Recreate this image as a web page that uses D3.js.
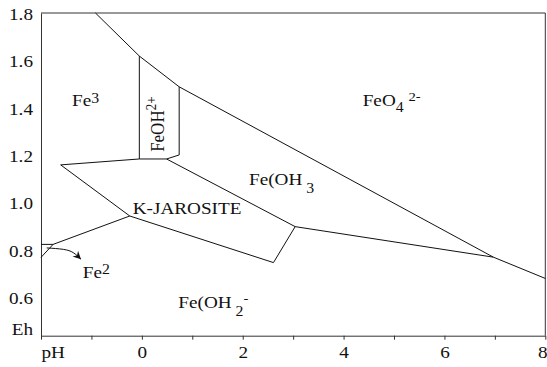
<!DOCTYPE html>
<html><head><meta charset="utf-8">
<script src="https://cdn.jsdelivr.net/npm/d3@7"></script>
<style>body{margin:0;background:#fff}</style>
</head><body>
<svg id="chart" width="547" height="367"></svg>
<script>
// Eh–pH stability diagram for iron (K-jarosite system)
const pHDomain = [-2, 8];
const EhDomain = [0.438, 1.802];
const xTicks = [-2, -1, 0, 1, 2, 3, 4, 5, 6, 7, 8];
const xTickLabels = ["pH", "", "0", "", "2", "", "4", "", "6", "", "8"];
const yTicks = [0.6, 0.8, 1.0, 1.2, 1.4, 1.6, 1.8];
const yTickLabels = ["0.6", "0.8", "1.0", "1.2", "1.4", "1.6", "1.8"];
const yAxisTitle = "Eh";

// Stability-field boundaries as [pH, Eh] vertices
const fe3Upper = [[-0.92, 1.802], [-0.05, 1.62], [0.74, 1.49], [6.97, 0.77], [8, 0.68]];
const feohBox = [[-0.05, 1.62], [-0.05, 1.185], [0.49, 1.185], [0.74, 1.202], [0.74, 1.49]];
const fe3Lower = [[-1.61, 1.16], [-0.05, 1.185]];
const jarosite = [[-1.61, 1.16], [-0.24, 0.944], [2.61, 0.747], [3.04, 0.899], [0.49, 1.185]];
const hydroxide = [[3.04, 0.899], [6.97, 0.77]];
const fe2Upper = [[-0.24, 0.944], [-1.76, 0.824], [-2, 0.769]];
const fe2Step = [[-2, 0.824], [-1.76, 0.824]];
const fe2Arrow = [[-1.887, 0.809], [-1.558, 0.803], [-1.36, 0.789], [-1.207, 0.761]];

// Field labels: anchor [pH, Eh], pieces with baseline shift and size
const fieldLabels = [
  { at: [-1.385, 1.407], parts: [{ t: "Fe" }, { t: "3", s: -3.5, z: 14 }] },
  { at: [0.439, 1.215], rot: -90, parts: [{ t: "FeOH" }, { t: "2+", s: -7, z: 13 }] },
  { at: [4.379, 1.409], parts: [{ t: "FeO" }, { t: "4", s: 6, z: 14 }, { t: " " }, { t: "2-", s: -4.5, z: 13 }] },
  { at: [2.125, 1.075], parts: [{ t: "Fe(OH" }, { t: " 3", s: 8, z: 14 }] },
  { at: [-0.182, 0.951], parts: [{ t: "K-JAROSITE" }] },
  { at: [-1.173, 0.683], parts: [{ t: "Fe" }, { t: "2", s: -3.6, z: 14 }] },
  { at: [0.723, 0.554], parts: [{ t: "Fe(OH" }, { t: " 2", s: 7.7, z: 14 }, { t: "-", s: -5, z: 13 }] }
];

const plotBox = { left: 41, right: 545.3, top: 13, bottom: 335.7 };
const stretch = 1.13;
const font = "'Liberation Serif', 'Times New Roman', serif";

const svg = d3.select("#chart");
const x = d3.scaleLinear().domain(pHDomain).range([plotBox.left, plotBox.right]);
const y = d3.scaleLinear().domain(EhDomain).range([plotBox.bottom, plotBox.top]);

// frame: top and right edges
svg.append("path")
  .attr("d", `M${plotBox.left},${plotBox.top}H${plotBox.right}V${plotBox.bottom}`)
  .attr("fill", "none").attr("stroke", "#333").attr("stroke-width", 1);

// x axis
const xAxis = svg.append("g")
  .attr("transform", `translate(0,${plotBox.bottom})`)
  .call(d3.axisBottom(x).tickValues(xTicks).tickSize(4).tickSizeOuter(0)
    .tickFormat((d, i) => xTickLabels[i]));
xAxis.select(".domain").attr("stroke", "#333");
xAxis.selectAll(".tick line").attr("stroke", "#333");
const lastTick = xTicks.length - 1;
xAxis.selectAll(".tick text")
  .attr("y", 22.8).attr("dy", 0)
  .attr("x", (d, i) => i === lastTick ? (547 - x(d)) / stretch : 0)
  .attr("transform", `scale(${stretch},1)`)
  .attr("font-family", font).attr("font-size", 17).attr("fill", "#111")
  .attr("text-anchor", (d, i) => i === 0 ? "start" : (i === lastTick ? "end" : "middle"));

// y axis
const yAxis = svg.append("g")
  .attr("transform", `translate(${plotBox.left},0)`)
  .call(d3.axisLeft(y).tickValues(yTicks).tickSize(0).tickSizeOuter(0)
    .tickFormat((d, i) => yTickLabels[i]));
yAxis.select(".domain").attr("stroke", "#333");
yAxis.selectAll(".tick text")
  .attr("x", -8 / stretch).attr("dy", "0.36em")
  .attr("transform", `scale(${stretch},1)`)
  .attr("font-family", font).attr("font-size", 17).attr("fill", "#111");

svg.append("text")
  .attr("transform", `translate(${plotBox.left - 8},${plotBox.bottom - 0.5}) scale(${stretch},1)`)
  .attr("text-anchor", "end")
  .attr("font-family", font).attr("font-size", 17).attr("fill", "#111")
  .text(yAxisTitle);

// boundaries
const line = d3.line().x(d => x(d[0])).y(d => y(d[1]));
const boundaries = [fe3Upper, feohBox, fe3Lower, jarosite, hydroxide, fe2Upper, fe2Step];
svg.append("g").selectAll("path").data(boundaries).join("path")
  .attr("d", line)
  .attr("fill", "none").attr("stroke", "#111").attr("stroke-width", 1)
  .attr("stroke-linejoin", "miter");

// arrow pointing into the Fe2 field
svg.append("defs").append("marker")
  .attr("id", "dart").attr("viewBox", "-10 -6 12 12")
  .attr("refX", 0).attr("refY", 0)
  .attr("markerWidth", 12).attr("markerHeight", 12)
  .attr("markerUnits", "userSpaceOnUse").attr("orient", "auto")
  .append("path").attr("d", "M0,0 L-8,-4 L-5.5,0 L-8,4 Z").attr("fill", "#111");
svg.append("path")
  .attr("d", d3.line().x(d => x(d[0])).y(d => y(d[1])).curve(d3.curveNatural)(fe2Arrow))
  .attr("fill", "none").attr("stroke", "#111").attr("stroke-width", 1)
  .attr("marker-end", "url(#dart)");

// field labels
fieldLabels.forEach(lbl => {
  const t = svg.append("text")
    .attr("transform", `translate(${x(lbl.at[0])},${y(lbl.at[1])}) scale(${stretch},1)` + (lbl.rot ? ` rotate(${lbl.rot})` : ""))
    .attr("font-family", font).attr("font-size", 17).attr("fill", "#111")
    .attr("xml:space", "preserve");
  let prev = 0;
  lbl.parts.forEach(p => {
    const s = p.s || 0;
    t.append("tspan")
      .attr("dy", s - prev)
      .attr("font-size", p.z || 17)
      .text(p.t);
    prev = s;
  });
});
</script>
</body></html>
